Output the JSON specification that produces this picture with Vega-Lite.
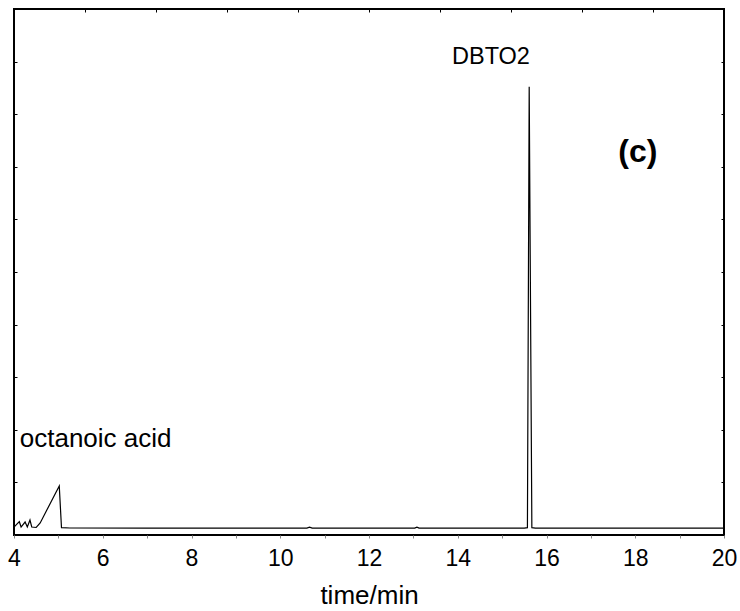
{
  "$schema": "https://vega.github.io/schema/vega-lite/v6.json",
  "width": 710,
  "height": 526,
  "autosize": "none",
  "padding": {"left": 14, "top": 9, "right": 16, "bottom": 76},
  "config": {
    "view": {"stroke": "black", "strokeWidth": 2},
    "font": "Liberation Sans"
  },
  "datasets": {
    "trace": [
      {"t": 4.0, "s": 1.52},
      {"t": 4.12, "s": 2.53},
      {"t": 4.16, "s": 1.52},
      {"t": 4.25, "s": 2.47},
      {"t": 4.30, "s": 1.52},
      {"t": 4.36, "s": 2.85},
      {"t": 4.40, "s": 1.52},
      {"t": 4.50, "s": 1.43},
      {"t": 4.59, "s": 2.28},
      {"t": 4.74, "s": 4.75},
      {"t": 4.88, "s": 7.03},
      {"t": 5.02, "s": 9.32},
      {"t": 5.07, "s": 1.39},
      {"t": 5.26, "s": 1.33},
      {"t": 7.0, "s": 1.3},
      {"t": 10.6, "s": 1.3},
      {"t": 10.66, "s": 1.5},
      {"t": 10.72, "s": 1.3},
      {"t": 13.03, "s": 1.3},
      {"t": 13.08, "s": 1.5},
      {"t": 13.13, "s": 1.3},
      {"t": 15.5, "s": 1.3},
      {"t": 15.57, "s": 1.4},
      {"t": 15.61, "s": 85.2},
      {"t": 15.67, "s": 1.4},
      {"t": 15.75, "s": 1.3},
      {"t": 20.0, "s": 1.3}
    ],
    "labels": [
      {"t": 4.13, "s": 18.3, "label": "octanoic acid", "kind": "plain", "size": 26},
      {"t": 13.87, "s": 90.9, "label": "DBTO2", "kind": "plain", "size": 23.5},
      {"t": 18.06, "s": 72.8, "label": "(c)", "kind": "bold", "size": 32}
    ]
  },
  "layer": [
    {
      "data": {"name": "trace"},
      "mark": {"type": "line", "color": "black", "strokeWidth": 1.2, "clip": true},
      "encoding": {
        "x": {
          "field": "t", "type": "quantitative",
          "scale": {"domain": [4, 20], "nice": false, "zero": false},
          "axis": {
            "orient": "bottom", "title": "time/min", "values": [4,5,6,7,8,9,10,11,12,13,14,15,16,17,18,19,20],
            "labelExpr": "datum.value % 2 == 0 ? datum.label : ''",
            "labelFlush": false, "labelOverlap": false,
            "grid": false, "domain": false, "tickSize": 3, "tickColor": "#888",
            "labelFontSize": 23, "labelColor": "black", "labelPadding": 9,
            "titleFontSize": 26, "titleFontWeight": "normal", "titleColor": "black", "titlePadding": 12,
            "labelFont": "Liberation Sans", "titleFont": "Liberation Sans"
          }
        },
        "y": {
          "field": "s", "type": "quantitative",
          "scale": {"domain": [0, 100], "nice": false},
          "axis": {
            "orient": "left", "title": null, "labels": false, "grid": false, "domain": false,
            "values": [10,20,30,40,50,60,70,80,90], "tickSize": -3, "tickColor": "black"
          }
        }
      }
    },
    {
      "data": {"name": "labels"},
      "transform": [{"filter": "datum.kind == 'plain'"}],
      "mark": {"type": "text", "align": "left", "baseline": "middle", "color": "black", "font": "Liberation Sans"},
      "encoding": {
        "x": {"field": "t", "type": "quantitative", "axis": {
          "orient": "top", "title": null, "labels": false, "grid": false, "domain": false,
          "values": [5.6, 7.2, 8.8, 10.4, 12, 13.6, 15.2, 16.8, 18.4], "tickSize": -3, "tickColor": "black"
        }},
        "y": {"field": "s", "type": "quantitative", "axis": {
          "orient": "right", "title": null, "labels": false, "grid": false, "domain": false,
          "values": [10,20,30,40,50,60,70,80,90], "tickSize": -3, "tickColor": "black"
        }},
        "text": {"field": "label"},
        "size": {"field": "size", "type": "quantitative", "scale": null}
      }
    },
    {
      "data": {"name": "labels"},
      "transform": [{"filter": "datum.kind == 'bold'"}],
      "mark": {"type": "text", "fontWeight": "bold", "align": "center", "baseline": "middle", "color": "black", "font": "Liberation Sans"},
      "encoding": {
        "x": {"field": "t", "type": "quantitative", "axis": null},
        "y": {"field": "s", "type": "quantitative", "axis": null},
        "text": {"field": "label"},
        "size": {"field": "size", "type": "quantitative", "scale": null}
      }
    }
  ],
  "resolve": {"axis": {"x": "independent", "y": "independent"}}
}
